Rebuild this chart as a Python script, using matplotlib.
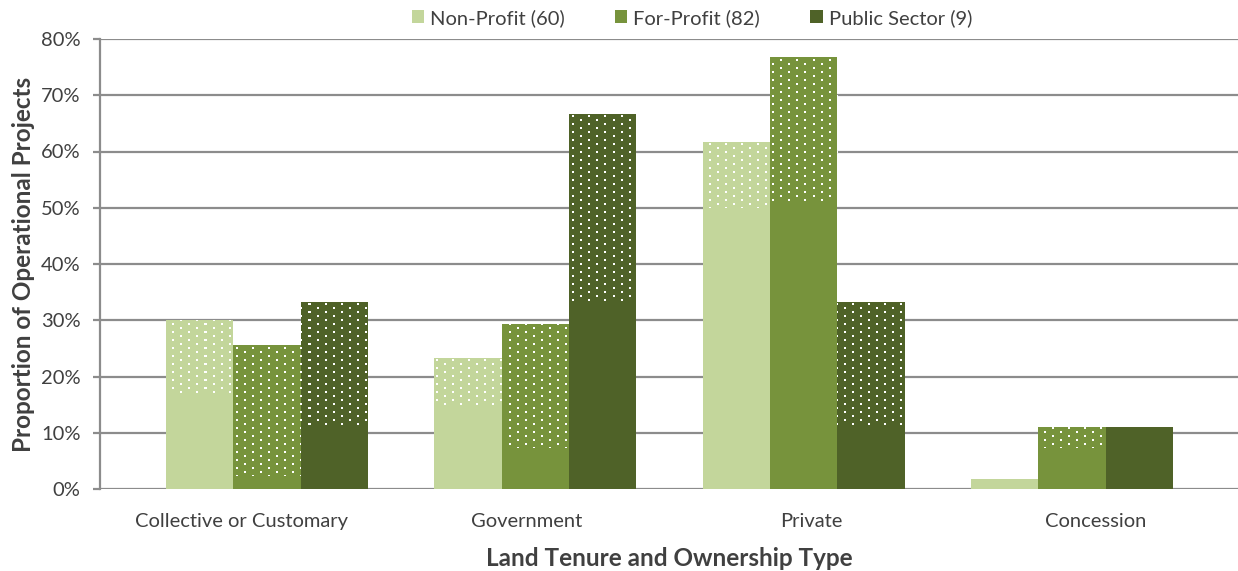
import numpy as np
import matplotlib.pyplot as plt
from matplotlib.patches import Patch

plt.rcParams['font.family'] = ['Lato', 'DejaVu Sans']

categories = ['Collective or Customary', 'Government', 'Private', 'Concession']
series = ['Non-Profit (60)', 'For-Profit (82)', 'Public Sector (9)']
colors = ['#C3D69B', '#77933C', '#4F6228']

# share of operational projects (%), whole bar
total = [
    [30.0, 23.3, 61.7, 1.7],   # non-profit
    [25.6, 29.3, 76.8, 11.0],  # for-profit
    [33.3, 66.7, 33.3, 11.1],  # public sector
]
# lower (solid) part of each bar; the rest is drawn dotted
solid = [
    [16.7, 15.0, 50.0, 1.7],
    [2.4, 7.3, 51.2, 7.3],
    [11.1, 33.3, 11.1, 11.1],
]

yticks = [0, 10, 20, 30, 40, 50, 60, 70, 80]

W, H = 1238, 571
fig = plt.figure(figsize=(W / 100, H / 100), dpi=100)
ax_l, ax_r, ax_b, ax_t = 100, 1238, 489, 39
ax = fig.add_axes([ax_l / W, 1 - ax_b / H, (ax_r - ax_l) / W, (ax_b - ax_t) / H])

xlim = (-0.622, 3.619)
ylim = (0, 80)
ax.set_xlim(*xlim)
ax.set_ylim(*ylim)

# white dot texture on the pixel grid of the axes
ph, pw = ax_b - ax_t, ax_r - ax_l
yy, xx = np.mgrid[0:ph, 0:pw]
row = yy // 4
dots = (yy % 4 < 2) & (((xx + 8 * (row % 2)) % 16) < 2)
tex = np.zeros((ph, pw, 4))
tex[dots] = (1, 1, 1, 1)

x = np.arange(len(categories))
bw = 0.251
for i, (name, c) in enumerate(zip(series, colors)):
    pos = x + (i - 1) * bw
    lo = np.array(solid[i])
    hi = np.array(total[i])
    ax.bar(pos, lo, width=bw, color=c, zorder=2, linewidth=0)
    tops = ax.bar(pos, hi - lo, bottom=lo, width=bw, color=c, zorder=2, linewidth=0)
    for rect, h in zip(tops, hi - lo):
        if h <= 0:
            continue
        im = ax.imshow(tex, extent=(*xlim, *ylim), aspect='auto',
                       interpolation='nearest', zorder=3)
        im.set_clip_path(rect)

ax.set_xlim(*xlim)
ax.set_ylim(*ylim)

grid_c = '#8C8C8C'
txt_c = '#404040'
ax.set_yticks(yticks)
ax.set_yticklabels([f'{v}%' for v in yticks])
ax.yaxis.grid(True, color=grid_c, linewidth=1.6, zorder=0)
ax.set_axisbelow(True)
for s in ['top', 'right', 'bottom']:
    ax.spines[s].set_visible(False)
ax.spines['left'].set_color(grid_c)
ax.spines['left'].set_linewidth(1.6)
ax.tick_params(axis='y', length=5, width=1.6, color=grid_c, labelsize=14.5,
               labelcolor=txt_c, pad=9)

# category labels sit slightly apart from the bar groups
ax.set_xticks(np.arange(len(categories)) * 1.061 - 0.093)
ax.set_xticklabels(categories)
ax.tick_params(axis='x', length=0, labelsize=14.5, labelcolor=txt_c, pad=17)

ax.set_xlabel('Land Tenure and Ownership Type', fontsize=17.5, fontweight='bold',
              color=txt_c)
ax.set_ylabel('Proportion of Operational Projects', fontsize=17.5, fontweight='bold',
              color=txt_c)
ax.xaxis.set_label_coords((669 - ax_l) / (ax_r - ax_l), (ax_b - 547) / (ax_b - ax_t))
ax.yaxis.set_label_coords((35 - ax_l) / (ax_r - ax_l), 0.5)

handles = [Patch(facecolor=c, edgecolor='none') for c in colors]
fig.legend(handles, series, loc='center', bbox_to_anchor=(692 / W, 1 - 18 / H),
           ncol=3, frameon=False, fontsize=14.5, handlelength=0.6,
           handleheight=0.6, handletextpad=0.3, columnspacing=2.5,
           labelcolor=txt_c)

fig.savefig('out.png', dpi=100)
